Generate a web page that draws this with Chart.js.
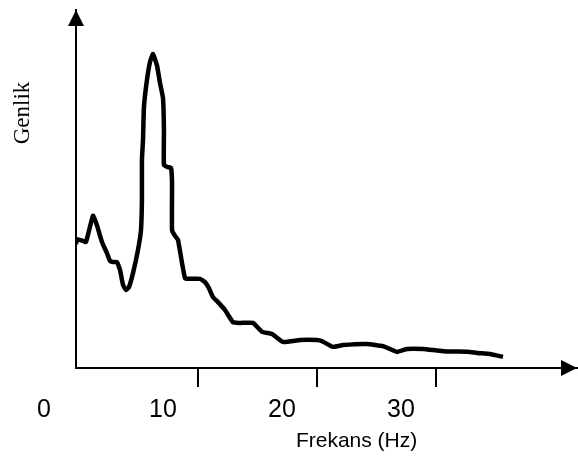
<!DOCTYPE html>
<html>
<head>
<meta charset="utf-8">
<script src="https://cdn.jsdelivr.net/npm/chart.js@4.4.1/dist/chart.umd.min.js"></script>
<style>
  body { margin: 0; background: #fff; }
  #wrap { width: 578px; height: 459px; }
</style>
</head>
<body>
<div id="wrap"><canvas id="chart"></canvas></div>
<script>
// spectrum (Hz, arbitrary amplitude)
const freq = [-0.25, -0.17, 0.34, 0.59, 1.18, 1.51, 1.93, 2.35, 2.61, 2.86, 3.19, 3.45, 3.70, 3.95, 4.20, 4.54, 4.96, 5.21, 5.29, 5.29, 5.38, 5.46, 5.71, 5.97, 6.22, 6.55, 6.81, 7.06, 7.14, 7.14, 7.48, 7.73, 7.82, 7.82, 8.07, 8.32, 8.66, 8.91, 9.16, 10.17, 10.59, 10.92, 11.26, 11.68, 12.27, 12.94, 13.53, 14.62, 15.38, 16.22, 17.14, 18.57, 20.0, 20.42, 21.34, 22.18, 24.20, 25.55, 26.72, 27.56, 28.91, 30.59, 32.86, 33.45, 34.54, 35.63];
const amp = [34.6, 36.0, 35.5, 35.2, 42.5, 39.9, 35.2, 32.1, 29.9, 29.6, 29.6, 27.4, 23.2, 21.8, 22.6, 26.5, 33.0, 38.5, 46.9, 58.1, 63.7, 72.9, 80.4, 85.5, 87.7, 84.6, 79.6, 75.4, 66.5, 56.7, 56.1, 55.9, 51.7, 38.5, 36.9, 35.8, 29.3, 25.1, 24.9, 24.9, 24.0, 22.3, 19.8, 18.4, 16.2, 12.8, 12.6, 12.6, 10.1, 9.5, 7.3, 7.8, 7.8, 7.5, 5.9, 6.4, 6.7, 6.1, 4.5, 5.3, 5.3, 4.7, 4.5, 4.2, 3.9, 3.1];
const xTicks = [0, 10, 20, 30];
const xTitle = 'Frekans (Hz)';
const yTitle = 'Genlik';

const points = freq.map((f, i) => ({x: f, y: amp[i]}));

// arrows on the axes + the two titles
const axisExtras = {
  id: 'axisExtras',
  afterDraw(chart) {
    const c = chart.ctx;
    const a = chart.chartArea;
    c.save();
    c.fillStyle = '#000';
    // y arrow
    c.beginPath();
    c.moveTo(a.left, a.top);
    c.lineTo(a.left - 8, a.top + 16);
    c.lineTo(a.left + 8, a.top + 16);
    c.closePath();
    c.fill();
    // x arrow
    c.beginPath();
    c.moveTo(a.right, a.bottom);
    c.lineTo(a.right - 16, a.bottom - 8);
    c.lineTo(a.right - 16, a.bottom + 8);
    c.closePath();
    c.fill();

    c.textAlign = 'center';
    c.textBaseline = 'middle';
    c.font = '21px "Liberation Sans", Arial, sans-serif';
    c.fillText(xTitle, a.left + (a.right - a.left) * 0.56, a.bottom + 73);

    c.translate(a.left - 53, a.top + 103);
    c.rotate(-Math.PI / 2);
    c.font = '23px "Liberation Serif", "Times New Roman", serif';
    c.fillText(yTitle, 0, 0);
    c.restore();
  }
};

const ctx = document.getElementById('chart').getContext('2d');
const myChart = new Chart(ctx, {
  type: 'scatter',
  data: {
    datasets: [{
      data: points,
      showLine: true,
      borderColor: '#000',
      borderWidth: 4.5,
      pointRadius: 0,
      tension: 0.12,
      fill: false
    }]
  },
  options: {
    responsive: true,
    maintainAspectRatio: false,
    animation: false,
    events: [],
    layout: { padding: { top: 10, right: 1, left: 0, bottom: 0 } },
    plugins: { legend: { display: false }, tooltip: { enabled: false } },
    scales: {
      x: {
        type: 'linear',
        min: -0.25,
        max: 41.85,
        afterBuildTicks: (s) => { s.ticks = xTicks.map(v => ({value: v})); },
        afterFit: (s) => { s.height = 91; },
        border: { display: true, color: '#000', width: 2 },
        grid: {
          drawOnChartArea: false,
          drawTicks: true,
          tickLength: 19,
          lineWidth: 2,
          color: (c) => (c.tick && c.tick.value === 0) ? 'rgba(0,0,0,0)' : '#000'
        },
        ticks: {
          color: '#000',
          font: { family: '"Liberation Sans", Arial, sans-serif', size: 25 },
          padding: 8,
          labelOffset: -35,
          maxRotation: 0
        }
      },
      y: {
        min: 0,
        max: 100,
        afterFit: (s) => { s.width = 76; },
        border: { display: true, color: '#000', width: 2 },
        grid: { display: false },
        ticks: { display: false }
      }
    }
  },
  plugins: [axisExtras]
});
</script>
</body>
</html>
